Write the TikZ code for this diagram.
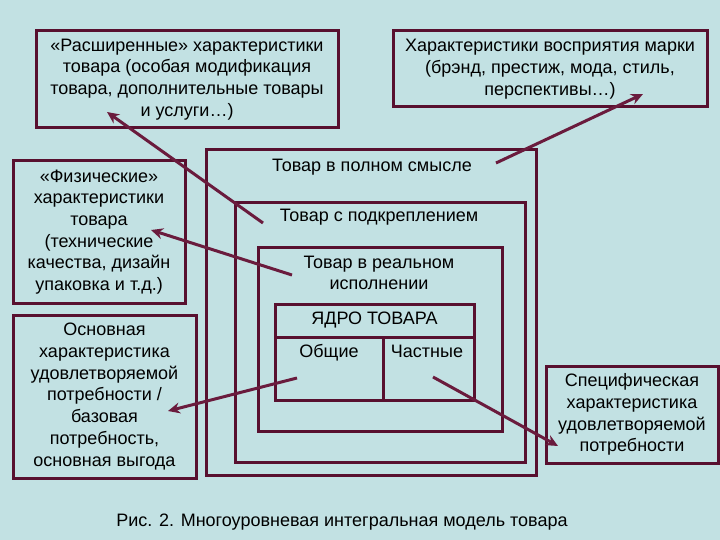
\documentclass[tikz,border=0pt]{standalone}
\usepackage{fontspec}
\setmainfont{Liberation Sans}
\usetikzlibrary{arrows.meta}
\definecolor{bg}{HTML}{C2E1E3}
\definecolor{framec}{HTML}{58102F}
\definecolor{arrc}{HTML}{6A1B3D}
\begin{document}
\begin{tikzpicture}[x=1pt,y=-1pt,
  txt/.style={font=\fontsize{18}{21.7}\selectfont},
  box/.style={draw=framec, line width=3pt, align=center, inner sep=0pt, txt},
  sq/.style={draw=framec, line width=3pt, inner sep=0pt},
  lbl/.style={align=center, inner sep=0pt, txt},
  lbl1/.style={inner sep=0pt, txt, text height=13pt, text depth=4pt},
  arrowline/.style={draw=arrc, line width=3pt, -{Stealth[length=12pt,width=11pt]}}]
\fill[bg] (0,0) rectangle (720,540);
\useasboundingbox (0,0) rectangle (720,540);
% side boxes
\node[box, minimum width=302, minimum height=97] (ext) at (187,79.5)
  {«Расширенные» характеристики\\товара (особая модификация\\товара, дополнительные товары\\и услуги…)};
\node[box, minimum width=314, minimum height=76] (brand) at (550,69)
  {Характеристики восприятия марки\\(брэнд, престиж, мода, стиль,\\перспективы…)};
\node[box, minimum width=172, minimum height=142] (phys) at (99,232)
  {«Физические»\\характеристики\\товара\\(технические\\качества, дизайн\\упаковка и т.д.)};
\node[box, minimum width=183, minimum height=163] (basic) at (104.5,396.5)
  {Основная\\характеристика\\удовлетворяемой\\потребности /\\базовая\\потребность,\\основная выгода};
\node[box, minimum width=172, minimum height=97] (spec) at (632,414.5)
  {Специфическая\\характеристика\\удовлетворяемой\\потребности};
% nested squares
\node[sq, minimum width=330, minimum height=325] (s1) at (371,312.5) {};
\node[sq, minimum width=290, minimum height=259] (s2) at (380,332.5) {};
\node[sq, minimum width=244, minimum height=184] (s3) at (380,339) {};
\node[sq, minimum width=199, minimum height=96] (s4) at (374.5,352) {};
\coordinate (dl) at (275,337);
\coordinate (dr) at (474,337);
\coordinate (dt) at (383,337);
\coordinate (db) at (383,400);
\draw[draw=framec, line width=3pt] (dl) -- (dr);
\draw[draw=framec, line width=3pt] (dt) -- (db);
% labels
\node[lbl1] (l1) at (372,167) {Товар в полном смысле};
\node[lbl1] (l2) at (379,217) {Товар с подкреплением};
\node[lbl] (l3) at (379,273) {Товар в реальном\\исполнении};
\node[lbl1] (l4) at (374.5,320) {ЯДРО ТОВАРА};
\node[lbl1] (l5) at (329,353) {Общие};
\node[lbl1] (l6) at (427,353) {Частные};
\node[lbl1] (cap) at (342,522) {Рис. 2. Многоуровневая интегральная модель товара};
% arrow ends
\coordinate (t1) at (263,223); \coordinate (h1) at (107,112);
\coordinate (t2) at (292,275); \coordinate (h2) at (151,230);
\coordinate (t3) at (496,163); \coordinate (h3) at (643,94);
\coordinate (t4) at (297,378); \coordinate (h4) at (168,411);
\coordinate (t5) at (433,377); \coordinate (h5) at (558,446);
\draw[arrowline] (t1) -- (h1);
\draw[arrowline] (t2) -- (h2);
\draw[arrowline] (t3) -- (h3);
\draw[arrowline] (t4) -- (h4);
\draw[arrowline] (t5) -- (h5);
\end{tikzpicture}
\end{document}
